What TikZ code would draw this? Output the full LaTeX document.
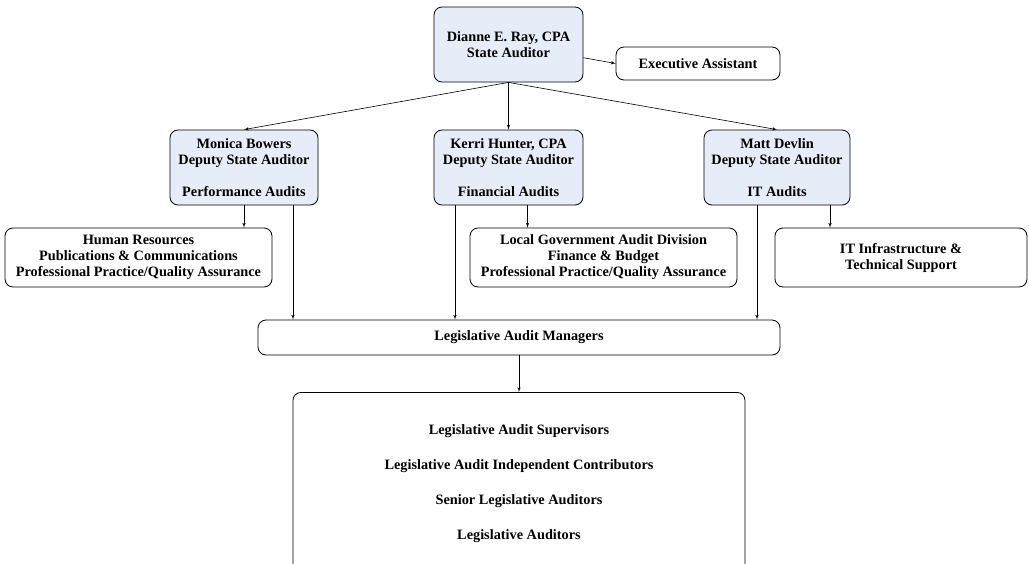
\documentclass[tikz,border=0pt]{standalone}
\usepackage{fontspec}
\setmainfont{Liberation Serif}
\usepackage{tikz}
\usetikzlibrary{arrows}
\definecolor{headfill}{RGB}{231,237,248}

\begin{document}
\begin{tikzpicture}[x=1pt,y=-1pt,->,>=latex',shorten >=0pt,line width=0.6pt,
		every node/.style={font=\fontsize{14.3}{16}\selectfont\bfseries,align=center},
		head node/.style={draw,rounded corners=8pt,fill=headfill,line width=0.8pt,minimum height=75pt},
		unit node/.style={draw,rounded corners=8pt,fill=white,line width=0.8pt}]
		\useasboundingbox (0,0) rectangle (1029,563);
		\node[head node,minimum width=149pt] (ray) at (508.5,44.5) {Dianne E. Ray, CPA\\State Auditor};
		\node[unit node,minimum width=164pt,minimum height=33pt] (exec) at (698,63.5) {Executive Assistant};
		\node[head node,minimum width=148pt] (monica) at (244,167.5) {Monica Bowers\\Deputy State Auditor\\[16pt]Performance Audits};
		\node[head node,minimum width=149pt] (kerri) at (508.5,167.5) {Kerri Hunter, CPA\\Deputy State Auditor\\[16pt]Financial Audits};
		\node[head node,minimum width=146pt] (matt) at (777,167.5) {Matt Devlin\\Deputy State Auditor\\[16pt]IT Audits};
		\node[unit node,minimum width=267pt,minimum height=59pt] (hr) at (138.5,257.5) {Human Resources\\Publications \& Communications\\Professional Practice/Quality Assurance};
		\node[unit node,minimum width=267pt,minimum height=59pt] (lgad) at (603.5,257.5) {Local Government Audit Division\\Finance \& Budget\\Professional Practice/Quality Assurance};
		\node[unit node,minimum width=252pt,minimum height=59pt] (it) at (901,257.5) {IT Infrastructure \&\\Technical Support};
		\node[unit node,minimum width=522pt,minimum height=35pt] (lam) at (519,337.5) {Legislative Audit Managers};
		\node[unit node,anchor=north,minimum width=452pt,minimum height=182pt] (staff) at (519,392)
			{Legislative Audit Supervisors\\[19pt]Legislative Audit Independent Contributors\\[19pt]Senior Legislative Auditors\\[19pt]Legislative Auditors};
		% state auditor
		\draw (ray.-10) -- (exec.west);
		\draw (ray.south) -- (monica.north);
		\draw (ray.south) -- (kerri.north);
		\draw (ray.south) -- (matt.north);
		% deputies
		\draw (monica.south) -- (monica.south |- hr.north);
		\draw ([xshift=19pt]kerri.south) -- ([xshift=19pt]kerri.south |- lgad.north);
		\draw ([xshift=53pt]matt.south) -- ([xshift=53pt]matt.south |- it.north);
		\draw ([xshift=49pt]monica.south) -- ([xshift=49pt]monica.south |- lam.north);
		\draw ([xshift=-53.5pt]kerri.south) -- ([xshift=-53.5pt]kerri.south |- lam.north);
		\draw ([xshift=-20pt]matt.south) -- ([xshift=-20pt]matt.south |- lam.north);
		\draw (lam.south) -- (staff.north);
\end{tikzpicture}
\end{document}
